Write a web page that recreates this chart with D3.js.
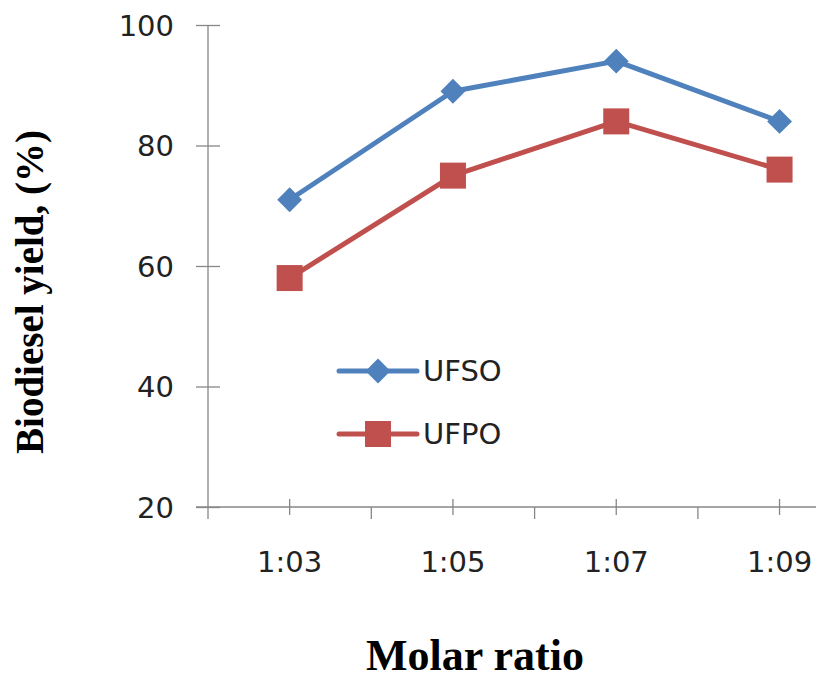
<!DOCTYPE html>
<html>
<head>
<meta charset="utf-8">
<script src="https://cdn.jsdelivr.net/npm/d3@7/dist/d3.min.js"></script>
<style>
  html, body { margin: 0; padding: 0; background: #ffffff; overflow: hidden; }
  svg { display: block; }
</style>
</head>
<body>
<svg id="chart" width="816" height="681"></svg>
<script>
// Molar ratio categories and biodiesel yield (%) for each oil
const categories = ["1:03", "1:05", "1:07", "1:09"];
const ufso = [71, 89, 94, 84];
const ufpo = [58, 75, 84, 76];
const yTicks = [20, 40, 60, 80, 100];

const seriesList = [
  { name: "UFSO", values: ufso, color: "#4F81BD", marker: "diamond" },
  { name: "UFPO", values: ufpo, color: "#C0504D", marker: "square" }
];

const svg = d3.select("#chart");
const axisColor = "#878787";
const tickFont = "'DejaVu Sans', Verdana, sans-serif";
const textColor = "#222222";

// Plot area: left edge of the category axis is at x0, bands continue past the right edge
const x0 = 208, band = 163.3;
const x = d3.scaleBand()
  .domain(categories)
  .range([x0, x0 + band * categories.length])
  .paddingInner(0).paddingOuter(0);
const y = d3.scaleLinear().domain([20, 100]).range([507, 25]);
const cx = c => x(c) + x.bandwidth() / 2;

// Value axis
const yAxis = d3.axisLeft(y).tickValues(yTicks).tickSize(0).tickPadding(0);
const gy = svg.append("g").attr("transform", `translate(${x0},0)`).call(yAxis);
gy.select(".domain").remove();
gy.selectAll(".tick text").remove();
svg.append("line")
  .attr("x1", x0).attr("x2", x0)
  .attr("y1", y(100)).attr("y2", y(20) + 12)
  .attr("stroke", axisColor).attr("stroke-width", 1.3);
gy.selectAll(".tick").append("line")
  .attr("x1", -12).attr("x2", 12)
  .attr("stroke", axisColor).attr("stroke-width", 1.3);
gy.selectAll(".tick").append("text")
  .attr("x", -34).attr("dy", "0.36em")
  .attr("text-anchor", "end")
  .attr("font-family", tickFont).attr("font-size", 29)
  .attr("fill", textColor)
  .text(d => d);

// Category axis
const xBase = y(20);
svg.append("line")
  .attr("x1", x0 - 12).attr("x2", 816)
  .attr("y1", xBase).attr("y2", xBase)
  .attr("stroke", axisColor).attr("stroke-width", 1.3);
const gx = svg.append("g");
// boundary ticks between categories (outside only)
gx.selectAll(".bound").data(categories.slice(1)).join("line")
  .attr("class", "bound")
  .attr("x1", d => x(d)).attr("x2", d => x(d))
  .attr("y1", xBase).attr("y2", xBase + 12)
  .attr("stroke", axisColor).attr("stroke-width", 1.3);
// category ticks (crossing)
gx.selectAll(".cat").data(categories).join("line")
  .attr("class", "cat")
  .attr("x1", cx).attr("x2", cx)
  .attr("y1", xBase - 8).attr("y2", xBase + 8)
  .attr("stroke", axisColor).attr("stroke-width", 1.3);
gx.selectAll(".lab").data(categories).join("text")
  .attr("class", "lab")
  .attr("x", cx).attr("y", xBase + 65)
  .attr("text-anchor", "middle")
  .attr("font-family", tickFont).attr("font-size", 29)
  .attr("fill", textColor)
  .text(d => d);

// Marker shapes
function drawMarker(g, kind, color, px, py) {
  if (kind === "diamond") {
    g.append("path").attr("d", d3.symbol().type(d3.symbolSquare).size(310)())
      .attr("transform", `translate(${px},${py}) rotate(45)`)
      .attr("fill", color);
  } else {
    g.append("rect")
      .attr("x", px - 13).attr("y", py - 13)
      .attr("width", 26).attr("height", 26)
      .attr("fill", color);
  }
}

// Series lines and markers
const line = d3.line().x((d, i) => cx(categories[i])).y(d => y(d));
seriesList.forEach(s => {
  const g = svg.append("g");
  g.append("path").datum(s.values)
    .attr("d", line)
    .attr("fill", "none")
    .attr("stroke", s.color).attr("stroke-width", 5)
    .attr("stroke-linejoin", "round").attr("stroke-linecap", "round");
  s.values.forEach((v, i) => drawMarker(g, s.marker, s.color, cx(categories[i]), y(v)));
});

// Legend
const legendX = 339, legendY = [371, 434];
seriesList.forEach((s, i) => {
  const g = svg.append("g");
  g.append("line")
    .attr("x1", legendX).attr("x2", legendX + 78)
    .attr("y1", legendY[i]).attr("y2", legendY[i])
    .attr("stroke", s.color).attr("stroke-width", 5)
    .attr("stroke-linecap", "round");
  drawMarker(g, s.marker, s.color, legendX + 39, legendY[i]);
  g.append("text")
    .attr("x", legendX + 84).attr("y", legendY[i]).attr("dy", "0.36em")
    .attr("font-family", tickFont).attr("font-size", 29)
    .attr("fill", textColor)
    .text(s.name);
});

// Axis titles
svg.append("text")
  .attr("transform", "translate(43,292) rotate(-90)")
  .attr("text-anchor", "middle")
  .attr("font-family", "'Liberation Serif', 'Times New Roman', serif")
  .attr("font-weight", "bold").attr("font-size", 39)
  .attr("fill", "#000")
  .text("Biodiesel yield, (%)");
svg.append("text")
  .attr("x", 475).attr("y", 670)
  .attr("text-anchor", "middle")
  .attr("font-family", "'Liberation Serif', 'Times New Roman', serif")
  .attr("font-weight", "bold").attr("font-size", 44)
  .attr("fill", "#000")
  .text("Molar ratio");
</script>
</body>
</html>
